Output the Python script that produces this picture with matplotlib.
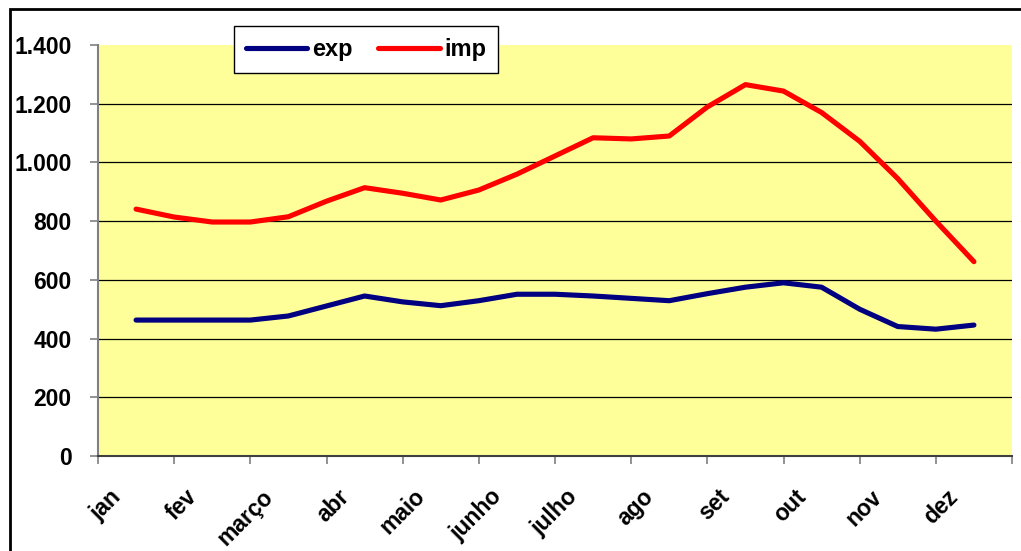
import matplotlib
matplotlib.use('Agg')
import matplotlib.pyplot as plt
import matplotlib.transforms as mtransforms
from matplotlib.ticker import FuncFormatter
from matplotlib.patches import Rectangle

# ---------------- data ----------------
months = ['jan', 'fev', 'março', 'abr', 'maio', 'junho', 'julho',
          'ago', 'set', 'out', 'nov', 'dez']
# half-month sample positions (in month units)
x_pos = [0, 0.5, 1, 1.5, 2, 2.5, 3, 3.5, 4, 4.5, 5, 5.5,
         6, 6.5, 7, 7.5, 8, 8.5, 9, 9.5, 10, 10.5, 11]
exp_values = [463, 463, 463, 463, 477, 511, 545, 525, 512, 529, 551, 551,
              545, 537, 529, 553, 575, 590, 575, 500, 441, 432, 446]
imp_values = [841, 814, 797, 797, 815, 868, 914, 895, 872, 906, 960, 1022,
              1084, 1080, 1090, 1189, 1265, 1243, 1170, 1072, 945, 800, 662]
y_ticks = [0, 200, 400, 600, 800, 1000, 1200, 1400]

plt.rcParams['font.family'] = ['Liberation Sans', 'DejaVu Sans']

W, H = 1021, 551
fig = plt.figure(figsize=(W / 100, H / 100), dpi=100)
fig.patch.set_facecolor('white')

# outer chart frame (extends beyond right/bottom edges)
fig.patches.append(Rectangle((10 / W, -0.2), 1.5, (1 - 9 / H) + 0.2,
                             transform=fig.transFigure, fill=False,
                             edgecolor='black', linewidth=2.0, zorder=0))

ax = fig.add_axes([98 / W, 1 - 456 / H, (1012 - 98) / W, (456 - 45) / H])
ax.set_facecolor('#FFFF99')

for y in y_ticks[1:-1]:
    ax.axhline(y, color='black', lw=0.9, zorder=1)

ax.plot(x_pos, exp_values, color='#000080', lw=3.7, label='exp',
        solid_capstyle='round', solid_joinstyle='round', zorder=3)
ax.plot(x_pos, imp_values, color='#FF0000', lw=3.7, label='imp',
        solid_capstyle='round', solid_joinstyle='round', zorder=3)

ax.set_xlim(-0.5, 11.5)
ax.set_ylim(0, 1400)

ax.set_yticks(y_ticks)
ax.yaxis.set_major_formatter(
    FuncFormatter(lambda v, p: f'{int(v):,}'.replace(',', '.')))
ax.tick_params(axis='y', length=6, width=1.2, color='#808080', pad=13,
               labelsize=16.5)
for lbl in ax.get_yticklabels():
    lbl.set_fontweight('bold')

ax.set_xticks(range(len(months)))
ax.set_xticklabels(months, rotation=45, ha='right', fontsize=16.5,
                   fontweight='bold')
ax.set_xticks([i - 0.5 for i in range(len(months) + 1)], minor=True)
ax.tick_params(axis='x', which='major', length=0, pad=21)
ax.tick_params(axis='x', which='minor', length=6, width=1.2,
               color='#808080', direction='out')
offset = mtransforms.ScaledTranslation(-11 / 100, 0, fig.dpi_scale_trans)
for lbl in ax.get_xticklabels():
    lbl.set_transform(lbl.get_transform() + offset)

for s in ['top', 'right']:
    ax.spines[s].set_visible(False)
ax.spines['left'].set_color('#808080')
ax.spines['left'].set_linewidth(1.5)
ax.spines['bottom'].set_color('#404040')
ax.spines['bottom'].set_linewidth(1.5)

leg = ax.legend(loc='upper left', bbox_to_anchor=(234 / W, 1 - 26 / H),
                bbox_transform=fig.transFigure, ncol=2, frameon=True,
                fancybox=False, edgecolor='black', framealpha=1,
                borderaxespad=0, handlelength=2.6, handletextpad=0.2,
                columnspacing=1.1, borderpad=0.5,
                prop={'size': 17, 'weight': 'bold'})
leg.get_frame().set_linewidth(1.0)
leg.set_zorder(5)

fig.savefig('out.png', dpi=100)
